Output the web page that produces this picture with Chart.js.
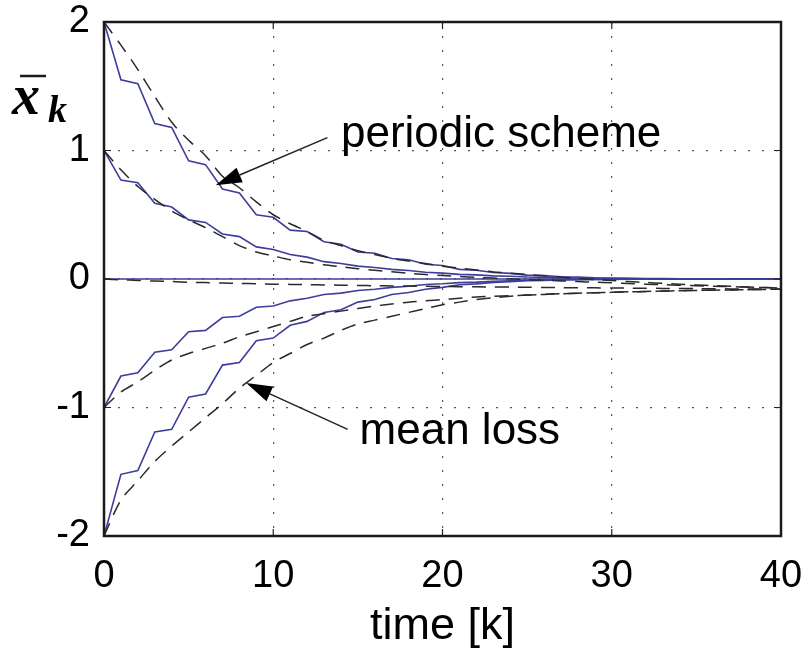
<!DOCTYPE html>
<html>
<head>
<meta charset="utf-8">
<script src="https://cdn.jsdelivr.net/npm/chart.js@4/dist/chart.umd.min.js"></script>
<style>
  html, body { margin: 0; padding: 0; background: #fff; }
  #wrap { width: 806px; height: 654px; }
</style>
</head>
<body>
<div id="wrap"><canvas id="graph1" width="806" height="654"></canvas></div>
<script>
// time steps k = 0..40
const steps = [0,1,2,3,4,5,6,7,8,9,10,11,12,13,14,15,16,17,18,19,20,
               21,22,23,24,25,26,27,28,29,30,31,32,33,34,35,36,37,38,39,40];

// periodic scheme (solid, zig-zag)
const periodicFrom2 = [2, 1.55, 1.52, 1.21, 1.18, 0.92, 0.89, 0.70, 0.67, 0.50, 0.48, 0.38, 0.37, 0.29, 0.27, 0.21, 0.20, 0.16, 0.15, 0.115, 0.105,
                       0.075, 0.068, 0.05, 0.044, 0.03, 0.026, 0.018, 0.015, 0.01, 0.008, 0.005, 0.004, 0.003, 0.002, 0.001, 0.001, 0, 0, 0, 0];
const periodicFrom1 = [1, 0.77, 0.75, 0.59, 0.56, 0.46, 0.44, 0.35, 0.33, 0.25, 0.23, 0.19, 0.17, 0.135, 0.12, 0.10, 0.09, 0.075, 0.066, 0.052, 0.046,
                       0.036, 0.032, 0.024, 0.021, 0.015, 0.013, 0.009, 0.008, 0.005, 0.004, 0.003, 0.002, 0.001, 0.001, 0, 0, 0, 0, 0, 0];
const periodicFrom0 = [0, 0, 0, 0, 0, 0, 0, 0, 0, 0, 0, 0, 0, 0, 0, 0, 0, 0, 0, 0, 0,
                       0, 0, 0, 0, 0, 0, 0, 0, 0, 0, 0, 0, 0, 0, 0, 0, 0, 0, 0, 0];
const periodicFromM1 = [-1, -0.755, -0.73, -0.57, -0.55, -0.41, -0.40, -0.30, -0.29, -0.22, -0.21, -0.17, -0.15, -0.12, -0.11, -0.09, -0.08, -0.065, -0.056, -0.043, -0.037,
                        -0.028, -0.024, -0.017, -0.014, -0.01, -0.008, -0.005, -0.004, -0.003, -0.002, -0.001, -0.001, 0, 0, 0, 0, 0, 0, 0, 0];
const periodicFromM2 = [-2, -1.52, -1.49, -1.19, -1.17, -0.92, -0.895, -0.67, -0.65, -0.48, -0.46, -0.36, -0.33, -0.26, -0.24, -0.18, -0.16, -0.12, -0.105, -0.08, -0.065,
                        -0.045, -0.038, -0.026, -0.021, -0.014, -0.011, -0.007, -0.006, -0.004, -0.003, -0.002, -0.001, -0.001, 0, 0, 0, 0, 0, 0, 0];

// mean loss (dashed, smooth)
const meanFrom2 = [2, 1.82, 1.63, 1.42, 1.22, 1.08, 0.96, 0.80, 0.71, 0.60, 0.50, 0.43, 0.37, 0.30, 0.26, 0.22, 0.19, 0.16, 0.14, 0.12, 0.10,
                   0.085, 0.07, 0.055, 0.045, 0.035, 0.025, 0.015, 0.005, -0.005, -0.012, -0.02, -0.027, -0.034, -0.04, -0.046, -0.052, -0.057, -0.062, -0.066, -0.07];
const meanFrom1 = [1, 0.85, 0.72, 0.62, 0.53, 0.46, 0.40, 0.33, 0.26, 0.21, 0.18, 0.15, 0.13, 0.11, 0.095, 0.08, 0.068, 0.056, 0.045, 0.035, 0.027,
                   0.02, 0.013, 0.007, 0.001, -0.005, -0.01, -0.015, -0.02, -0.025, -0.03, -0.035, -0.04, -0.044, -0.048, -0.052, -0.056, -0.06, -0.063, -0.067, -0.07];
const meanFrom0 = [0, -0.006, -0.011, -0.016, -0.02, -0.025, -0.028, -0.031, -0.034, -0.037, -0.04, -0.042, -0.044, -0.046, -0.048, -0.05, -0.052, -0.054, -0.055, -0.057, -0.058,
                   -0.06, -0.061, -0.062, -0.063, -0.064, -0.066, -0.067, -0.068, -0.069, -0.07, -0.071, -0.072, -0.073, -0.074, -0.075, -0.076, -0.077, -0.078, -0.079, -0.08];
const meanFromM1 = [-1, -0.88, -0.80, -0.71, -0.63, -0.58, -0.54, -0.50, -0.45, -0.41, -0.37, -0.33, -0.29, -0.27, -0.25, -0.23, -0.21, -0.195, -0.18, -0.17, -0.16,
                    -0.15, -0.14, -0.135, -0.13, -0.125, -0.12, -0.115, -0.11, -0.107, -0.104, -0.1, -0.097, -0.094, -0.091, -0.089, -0.087, -0.085, -0.083, -0.081, -0.08];
const meanFromM2 = [-2, -1.72, -1.57, -1.42, -1.30, -1.19, -1.08, -0.97, -0.85, -0.75, -0.65, -0.58, -0.51, -0.46, -0.40, -0.35, -0.32, -0.29, -0.26, -0.23, -0.20,
                    -0.18, -0.16, -0.145, -0.135, -0.125, -0.12, -0.115, -0.11, -0.107, -0.104, -0.1, -0.097, -0.094, -0.091, -0.089, -0.087, -0.085, -0.083, -0.081, -0.08];

const xTicks = [0, 10, 20, 30, 40];
const yTicks = [-2, -1, 0, 1, 2];
const xTitle = 'time [k]';
const labelPeriodic = 'periodic scheme';
const labelMean = 'mean loss';

function toPoints(values) {
    return steps.map(function (k, i) { return { x: k, y: values[i] }; });
}

function solidSet(values) {
    return {
        data: toPoints(values),
        borderColor: '#3d3d9a',
        borderWidth: 1.6,
        pointRadius: 0,
        tension: 0,
        fill: false
    };
}

function dashedSet(values) {
    return {
        data: toPoints(values),
        borderColor: '#2a2a2a',
        borderWidth: 1.5,
        borderDash: [14, 9],
        pointRadius: 0,
        tension: 0.3,
        fill: false
    };
}

function arrow(ctx, x1, y1, x2, y2) {
    // line from (x1,y1) to tip (x2,y2) with a filled head
    let ang = Math.atan2(y2 - y1, x2 - x1);
    let len = 26, half = 8;
    let bx = x2 - len * Math.cos(ang), by = y2 - len * Math.sin(ang);
    ctx.strokeStyle = '#222';
    ctx.lineWidth = 1.5;
    ctx.beginPath();
    ctx.moveTo(x1, y1);
    ctx.lineTo(bx, by);
    ctx.stroke();
    ctx.fillStyle = '#000';
    ctx.beginPath();
    ctx.moveTo(x2, y2);
    ctx.lineTo(bx + half * Math.sin(ang), by - half * Math.cos(ang));
    ctx.lineTo(bx - half * Math.sin(ang), by + half * Math.cos(ang));
    ctx.closePath();
    ctx.fill();
}

const decorations = {
    id: 'decorations',
    afterDraw: function (chart) {
        let ctx = chart.ctx;
        let a = chart.chartArea;
        let xs = chart.scales.x, ys = chart.scales.y;
        ctx.save();

        // inward ticks
        ctx.strokeStyle = '#222';
        ctx.lineWidth = 1.2;
        xTicks.forEach(function (v) {
            let px = xs.getPixelForValue(v);
            ctx.beginPath();
            ctx.moveTo(px, a.bottom); ctx.lineTo(px, a.bottom - 7);
            ctx.moveTo(px, a.top); ctx.lineTo(px, a.top + 7);
            ctx.stroke();
        });
        yTicks.forEach(function (v) {
            let py = ys.getPixelForValue(v);
            ctx.beginPath();
            ctx.moveTo(a.left, py); ctx.lineTo(a.left + 7, py);
            ctx.moveTo(a.right, py); ctx.lineTo(a.right - 7, py);
            ctx.stroke();
        });

        // box
        ctx.strokeStyle = '#1a1a1a';
        ctx.lineWidth = 2.5;
        ctx.strokeRect(a.left, a.top, a.right - a.left, a.bottom - a.top);

        // y label: x-bar sub k
        ctx.fillStyle = '#000';
        ctx.textBaseline = 'alphabetic';
        ctx.textAlign = 'left';
        ctx.font = 'italic bold 56px "Liberation Serif", "DejaVu Serif", serif';
        ctx.fillText('x', 12, 114);
        ctx.lineWidth = 2.5;
        ctx.beginPath();
        ctx.moveTo(20, 76); ctx.lineTo(46, 76);
        ctx.stroke();
        ctx.font = 'italic bold 38px "Liberation Serif", "DejaVu Serif", serif';
        ctx.fillText('k', 48, 122);

        // annotations
        ctx.font = '44px "Liberation Sans", Arial, sans-serif';
        ctx.textBaseline = 'middle';
        ctx.fillText(labelPeriodic, xs.getPixelForValue(14.0), ys.getPixelForValue(1.12));
        ctx.fillText(labelMean, xs.getPixelForValue(15.1), ys.getPixelForValue(-1.19));

        arrow(ctx, xs.getPixelForValue(13.2), ys.getPixelForValue(1.10),
                   xs.getPixelForValue(6.6), ys.getPixelForValue(0.73));
        arrow(ctx, xs.getPixelForValue(14.4), ys.getPixelForValue(-1.17),
                   xs.getPixelForValue(8.4), ys.getPixelForValue(-0.81));
        ctx.restore();
    }
};

let ctx = document.getElementById('graph1').getContext('2d');

let data = {
    datasets: [
        dashedSet(meanFrom2), dashedSet(meanFrom1), dashedSet(meanFrom0),
        dashedSet(meanFromM1), dashedSet(meanFromM2),
        solidSet(periodicFrom2), solidSet(periodicFrom1), solidSet(periodicFrom0),
        solidSet(periodicFromM1), solidSet(periodicFromM2)
    ]
};

let gridStyle = {
    color: '#555',
    lineWidth: 1.2,
    drawTicks: false
};

let options = {
    responsive: false,
    animation: false,
    layout: { padding: { left: 0, top: 22, right: 25, bottom: 0 } },
    plugins: { legend: { display: false }, tooltip: { enabled: false } },
    scales: {
        x: {
            type: 'linear',
            min: 0,
            max: 40,
            afterBuildTicks: function (scale) { scale.ticks = xTicks.map(function (v) { return { value: v }; }); },
            afterFit: function (scale) {
                scale.height = 118;
                scale.paddingLeft = 0;
                scale.paddingRight = 0;
            },
            ticks: { color: '#000', padding: 18, font: { family: '"Liberation Sans", Arial', size: 38 } },
            grid: gridStyle,
            border: { display: false, dash: [2, 12] },
            title: { display: true, text: xTitle, color: '#000', padding: { top: 0, bottom: 0 },
                     font: { family: '"Liberation Sans", Arial', size: 45 } }
        },
        y: {
            type: 'linear',
            min: -2,
            max: 2,
            afterBuildTicks: function (scale) { scale.ticks = yTicks.map(function (v) { return { value: v }; }); },
            afterFit: function (scale) {
                scale.width = 104;
                scale.paddingTop = 0;
                scale.paddingBottom = 0;
            },
            ticks: { color: '#000', padding: 14, font: { family: '"Liberation Sans", Arial', size: 38 } },
            grid: gridStyle,
            border: { display: false, dash: [2, 12] }
        }
    }
};

let config = {
    type: 'line',
    data: data,
    options: options,
    plugins: [decorations]
};

let graph1 = new Chart(ctx, config);
</script>
</body>
</html>
